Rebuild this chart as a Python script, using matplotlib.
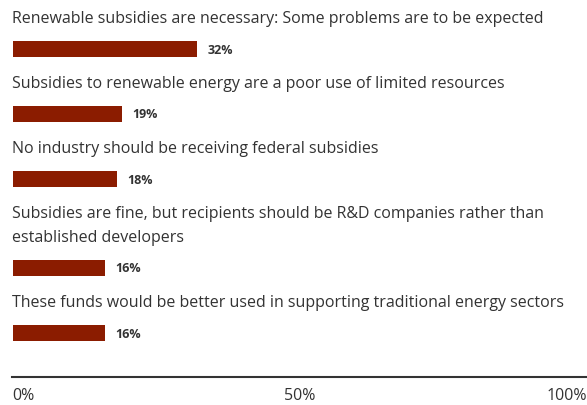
import matplotlib
matplotlib.use("Agg")
import matplotlib.pyplot as plt

labels = [
    "Renewable subsidies are necessary: Some problems are to be expected",
    "Subsidies to renewable energy are a poor use of limited resources",
    "No industry should be receiving federal subsidies",
    "Subsidies are fine, but recipients should be R&D companies rather than\nestablished developers",
    "These funds would be better used in supporting traditional energy sectors",
]
values = [32, 19, 18, 16, 16]
tick_vals = [0, 50, 100]
tick_labels = ["0%", "50%", "100%"]

bar_color = "#8b1c00"
text_color = "#333333"
plt.rcParams["font.family"] = ["Open Sans", "DejaVu Sans"]

W, H = 587, 405
fig = plt.figure(figsize=(W / 100, H / 100), dpi=100)
# vertical axis in pixel units, horizontal in percent
x0, x1, ybot = 12, 587, 378
ax = fig.add_axes([x0 / W, 1 - ybot / H, (x1 - x0) / W, ybot / H])
ax.set_xlim(0, 100)
ax.set_ylim(ybot, 0)
ax.axis("off")

# each block: label line(s), then the bar
line_h = 24
y = 18
for lab, v in zip(labels, values):
    n = lab.count("\n") + 1
    ax.text(0, y - 7, lab, ha="left", va="top", fontsize=11.5, color=text_color,
            linespacing=1.65)
    bar_y = y + (n - 1) * line_h + 31
    ax.barh(bar_y, v, height=16, left=0.2, color=bar_color)
    ax.text(v + 2.0, bar_y + 1, f"{v}%", ha="left", va="center", fontsize=9,
            fontweight="bold", color=text_color)
    y = bar_y + 34

# bottom axis
ax.plot([0, 100], [ybot - 1, ybot - 1], color="#333333", lw=1.5, clip_on=False)
aligns = ["left", "center", "right"]
for tv, tl, al in zip(tick_vals, tick_labels, aligns):
    ax.text(tv, ybot + 18, tl, ha=al, va="center", fontsize=11.5, color=text_color,
            clip_on=False)

fig.savefig("out.png", dpi=100)
